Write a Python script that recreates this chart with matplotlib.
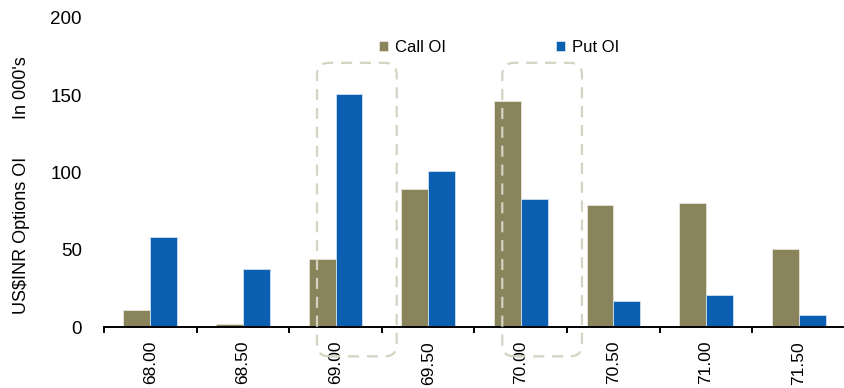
import matplotlib
matplotlib.use("Agg")
import numpy as np
from matplotlib import pyplot as plt
from matplotlib.patches import FancyBboxPatch

plt.rcParams['font.family'] = ['Liberation Sans', 'DejaVu Sans']

# strikes and open interest (000's)
strikes = ["68.00", "68.50", "69.00", "69.50", "70.00", "70.50", "71.00", "71.50"]
call_oi = [11, 1.7, 44, 89, 146, 79, 80, 50.5]
put_oi = [58, 37.5, 151, 101, 83, 17, 21, 8]
highlight = ["69.00", "70.00"]

call_col = "#8a845c"
put_col = "#0a5fb0"
box_col = "#d5d3c2"

fig = plt.figure(figsize=(8.45, 3.88), dpi=100)
ax = fig.add_axes([104/845, 61/388, 741/845, 309/388])

x = np.arange(len(strikes))
w = 0.29
b1 = ax.bar(x - w/2, call_oi, w, color=call_col, edgecolor="#e8e6da", linewidth=0.6, label="Call OI")
b2 = ax.bar(x + w/2, put_oi, w, color=put_col, edgecolor="#cfe0f0", linewidth=0.6, label="Put OI")

ax.set_xlim(-0.5, len(strikes) - 0.5)
ax.set_ylim(0, 200)
ax.set_yticks([0, 50, 100, 150, 200])
ax.tick_params(axis='y', length=0, pad=16, labelsize=13.5)

# boundary ticks (major), labels at category centres (minor)
ax.set_xticks(np.arange(len(strikes) + 1) - 0.5)
ax.set_xticklabels([])
ax.set_xticks(x, minor=True)
ax.set_xticklabels(strikes, minor=True, rotation=90, fontsize=12.5)
ax.tick_params(axis='x', which='major', direction='out', length=4, width=1.4, color='black')
ax.tick_params(axis='x', which='minor', length=0, pad=10)

for s in ['top', 'right', 'left']:
    ax.spines[s].set_visible(False)
ax.spines['bottom'].set_linewidth(1.4)

fig.text(22/845, 1 - 235/388, r"US\$INR Options OI", rotation=90, ha='center', va='center', fontsize=13)
fig.text(22/845, 1 - 88/388, "In 000's", rotation=90, ha='center', va='center', fontsize=13)

ax.legend(ncol=2, loc='center left', bbox_to_anchor=(379/845, 1 - 47/388), bbox_transform=fig.transFigure,
          frameon=False, fontsize=12, handlelength=0.55, handleheight=0.55, handletextpad=0.4,
          columnspacing=6.6, borderpad=0, borderaxespad=0)

# dashed rounded boxes around highlighted strikes
for h in highlight:
    i = strikes.index(h)
    p0 = ax.transData.transform((i - 0.2, -19))
    p1 = ax.transData.transform((i + 0.66, 171))
    inv = fig.dpi_scale_trans.inverted()
    (x0, y0), (x1, y1) = inv.transform(p0), inv.transform(p1)
    box = FancyBboxPatch((x0, y0), x1 - x0, y1 - y0, boxstyle="round,pad=0,rounding_size=0.12",
                         transform=fig.dpi_scale_trans, fill=False, edgecolor=box_col,
                         linewidth=1.6, linestyle=(0, (5, 3.5)), clip_on=False)
    fig.add_artist(box)

fig.savefig("out.png", dpi=100)
